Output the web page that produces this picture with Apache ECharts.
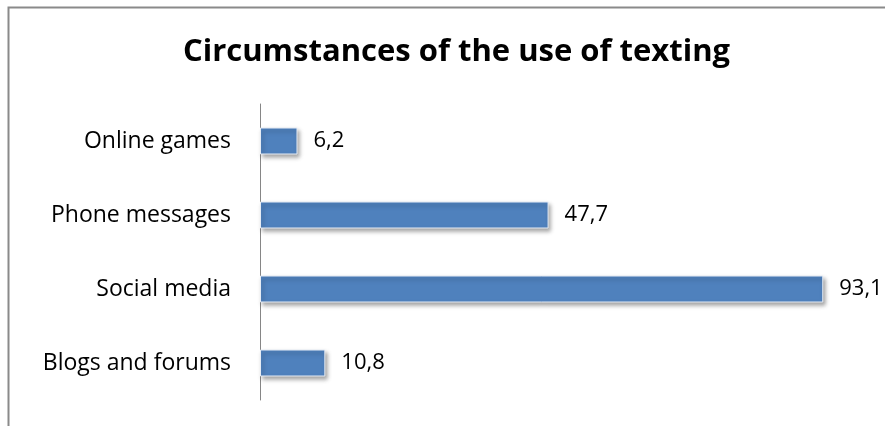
<!DOCTYPE html>
<html>
<head>
<meta charset="utf-8">
<script src="https://cdn.jsdelivr.net/npm/echarts@6/dist/echarts.min.js"></script>
<style>
  html, body { margin: 0; padding: 0; background: #fff; }
  #chart { width: 885px; height: 426px; }
</style>
</head>
<body>
<div id="chart"></div>
<script>
// Where people use texting (percent of respondents)
const categories = ['Online games', 'Phone messages', 'Social media', 'Blogs and forums'];
const shares = [6.2, 47.7, 93.1, 10.8];
const chartTitle = 'Circumstances of the use of texting';

const fontFamily = '"Open Sans", "Liberation Sans", sans-serif';

const chart = echarts.init(document.getElementById('chart'), null, { renderer: 'canvas' });

chart.setOption({
  animation: false,
  backgroundColor: '#fff',
  title: {
    text: chartTitle,
    left: 178,
    top: 32,
    textStyle: { fontFamily: fontFamily, fontSize: 31, fontWeight: 'bold', color: '#000' }
  },
  graphic: [{
    type: 'rect',
    shape: { x: 8.5, y: 7.5, width: 900, height: 500 },
    style: { fill: 'none', stroke: '#8a8a8a', lineWidth: 2 },
    silent: true
  }],
  grid: { left: 260, right: 20, top: 104, bottom: 26, containLabel: false },
  xAxis: {
    type: 'value',
    min: 0,
    max: 100,
    show: false
  },
  yAxis: {
    type: 'category',
    data: categories,
    inverse: true,
    axisLine: { show: true, lineStyle: { color: '#868686', width: 1 } },
    axisTick: { show: false },
    axisLabel: {
      margin: 29,
      color: '#000',
      fontFamily: fontFamily,
      fontSize: 23
    }
  },
  series: [{
    type: 'bar',
    data: shares,
    barWidth: 27,
    itemStyle: {
      color: '#4F81BD',
      borderColor: '#e6ecf5',
      borderWidth: 1,
      shadowBlur: 4,
      shadowOffsetX: 2,
      shadowOffsetY: 3,
      shadowColor: 'rgba(0,0,0,0.35)'
    },
    label: {
      show: true,
      position: 'right',
      distance: 16,
      color: '#000',
      fontFamily: fontFamily,
      fontSize: 22,
      formatter: p => String(p.value).replace('.', ',')
    }
  }]
});
</script>
</body>
</html>
